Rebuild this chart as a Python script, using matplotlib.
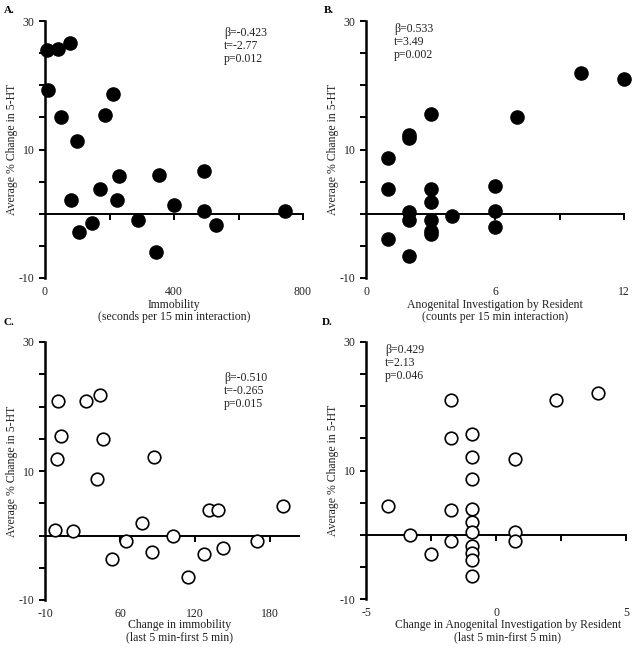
import numpy as np
import matplotlib.pyplot as plt

plt.rcParams['font.family'] = ['Liberation Serif', 'DejaVu Serif']
plt.rcParams['font.size'] = 8.5
plt.rcParams['axes.unicode_minus'] = False

# panel A: immobility vs 5-HT change
a_x = [5, 41, 78, 10, 210, 49, 186, 100, 228, 352, 492, 169, 80, 223,
       399, 494, 743, 288, 145, 106, 529, 343]
a_y = [25.5, 25.6, 26.5, 19.3, 18.7, 15.0, 15.3, 11.4, 5.9, 6.0, 6.6, 3.8,
       2.1, 2.1, 1.3, 0.4, 0.4, -1.0, -1.5, -2.8, -1.8, -6.0]

# panel B: anogenital investigation vs 5-HT change
b_x = [1, 1, 1, 2, 2, 2, 2, 2, 3, 3, 3, 3, 3, 3, 4, 6, 6, 6, 7, 10, 12]
b_y = [8.6, 3.9, -3.9, 12.3, 11.8, 0.3, -0.9, -6.6, 15.5, 3.8, 1.9, -1.0,
       -2.7, -3.2, -0.3, 4.3, 0.4, -2.0, 15.0, 21.9, 21.0]

# panel C: change in immobility
c_x = [10.4, 12.5, 9.3, 7.7, 22.4, 32.5, 43.7, 46.4, 41.9, 87.2, 53.9, 64.8,
       77.9, 85.3, 101.9, 113.9, 127.2, 130.7, 138.4, 141.9, 169.1, 189.9]
c_y = [20.9, 15.5, 11.8, 0.8, 0.7, 20.9, 21.8, 15.0, 8.8, 12.2, -3.6, -0.9,
       1.9, -2.6, 0.0, -6.4, -2.9, 4.0, 4.0, -1.9, -0.9, 4.5]

# panel D: change in anogenital investigation
d_x = [-4.15, -3.29, -2.5, -1.72, -1.72, -1.72, -1.72, -0.92, -0.92, -0.92,
       -0.92, -0.92, -0.92, -0.92, -0.92, -0.92, -0.92, 0.72, 0.72, 0.72,
       2.31, 3.92]
d_y = [4.4, -0.1, -3.0, 21.0, 15.1, 3.9, -1.0, 15.7, 12.1, 8.7, 4.0, 2.0,
       0.4, -1.8, -2.8, -3.9, -6.4, 11.8, 0.5, -1.0, 21.0, 22.0]

stats = ['β=-0.423\nt=-2.77\np=0.012',
         'β=0.533\nt=3.49\np=0.002',
         'β=-0.510\nt=-0.265\np=0.015',
         'β=0.429\nt=2.13\np=0.046']
xlabels = ['Immobility\n(seconds per 15 min interaction)',
           'Anogenital Investigation by Resident\n(counts per 15 min interaction)',
           'Change in immobility\n(last 5 min-first 5 min)',
           'Change in Anogenital Investigation by Resident\n(last 5 min-first 5 min)']
letters = ['A.', 'B.', 'C.', 'D.']

xlims = [(0, 800), (0, 12), (0, 203), (-5, 5)]
line_ticks = [[200, 400, 600, 800], [3, 6, 9, 12], [60, 120, 180],
              [-2.5, 0, 2.5, 5]]
label_ticks = [[0, 400, 800], [0, 6, 12], [0, 60, 120, 180], [-5, 0, 5]]
label_texts = [['0', '400', '800'], ['0', '6', '12'],
               ['-10', '60', '120', '180'], ['-5', '0', '5']]

W, H = 634, 650
boxes = [(45, 21, 303, 278), (366, 21, 624, 278),
         (45, 342, 299, 600), (366, 342, 626, 599)]
stat_pos = [(0.694, 0.977), (0.109, 0.992), (0.705, 0.884), (0.073, 0.992)]
# x centre (axes fraction) and top of the label, in pixels below the axes
xlab_pos = [(0.5, 21), (0.5, 21), (0.53, 19), (0.546, 20)]
letter_pos = [(4, 6), (324, 6), (4, 318), (322, 318)]

fig = plt.figure(figsize=(W / 100, H / 100), dpi=100)
data = [(a_x, a_y), (b_x, b_y), (c_x, c_y), (d_x, d_y)]

for i, (x0, y0, x1, y1) in enumerate(boxes):
    ax = fig.add_axes([x0 / W, 1 - y1 / H, (x1 - x0) / W, (y1 - y0) / H])
    xs, ys = data[i]
    if i < 2:
        ax.scatter(xs, ys, s=90, color='black', zorder=3, clip_on=False)
    else:
        ax.scatter(xs, ys, s=82, facecolor='white', edgecolor='black',
                   linewidths=1.2, zorder=3, clip_on=False)
    ax.set_xlim(*xlims[i])
    ax.set_ylim(-10, 30)

    for s in ['top', 'right']:
        ax.spines[s].set_visible(False)
    ax.spines['left'].set_linewidth(1.8)
    ax.spines['left'].set_position(('data', xlims[i][0]))
    ax.spines['bottom'].set_position(('data', 0))
    ax.spines['bottom'].set_linewidth(1.4)

    ax.set_yticks([-10, 10, 30])
    ax.set_yticks(np.arange(-10, 31, 5), minor=True)
    ax.tick_params(axis='y', which='both', length=4, width=1.4,
                   direction='out', colors='black', labelcolor='#222222')
    ax.set_xticks(line_ticks[i])
    ax.tick_params(axis='x', length=4, width=1.4, direction='out',
                   labelbottom=False)

    sec = ax.secondary_xaxis('bottom')
    sec.spines['bottom'].set_visible(False)
    sec.set_xticks(label_ticks[i])
    sec.set_xticklabels(label_texts[i])
    sec.tick_params(length=0, pad=6, labelcolor='#222222')

    ax.set_ylabel('Average % Change in 5-HT', color='#222222')
    ax.yaxis.set_label_coords(-0.105, 0.5)
    fig.text((x0 + xlab_pos[i][0] * (x1 - x0)) / W,
             1 - (y1 + xlab_pos[i][1]) / H,
             xlabels[i], ha='center', va='top', color='#222222',
             linespacing=1.0)

    ax.text(stat_pos[i][0], stat_pos[i][1], stats[i], transform=ax.transAxes,
            ha='left', va='top', linespacing=1.1, color='#222222')

    fig.text(letter_pos[i][0] / W, 1 - letter_pos[i][1] / H, letters[i],
             ha='left', va='top', fontweight='bold', fontsize=8)

fig.savefig('out.png', dpi=100)
